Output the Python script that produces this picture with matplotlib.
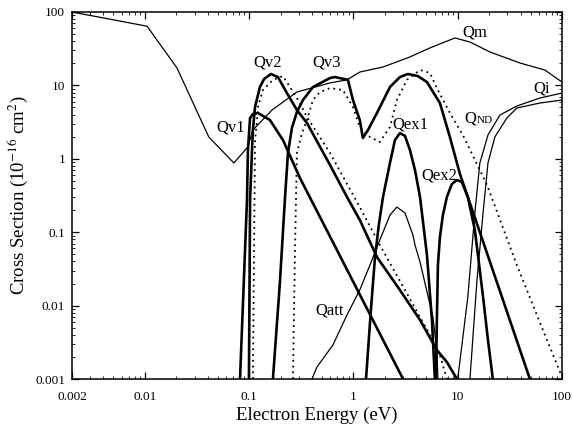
import numpy as np
import matplotlib
matplotlib.use('Agg')
import matplotlib.pyplot as plt
from matplotlib.ticker import LogLocator, NullFormatter

plt.rcParams['font.family'] = ['Liberation Serif', 'DejaVu Serif']
plt.rcParams['mathtext.fontset'] = 'stix'

# --- data (energy in eV, cross section in 1e-16 cm^2) ---
qm_x = [0.002, 0.0105, 0.0203, 0.041, 0.0714, 0.097, 0.1086, 0.166, 0.287, 0.596,
        0.867, 1.15, 1.92, 3.48, 5.41, 9.4, 13.1, 20.4, 39.5, 68.5, 100]
qm_y = [100, 64, 17.3, 1.98, 0.877, 1.45, 2.47, 4.63, 8.13, 10.8,
        11.9, 15.2, 17.8, 24.4, 32.4, 44.3, 39, 28.5, 20.2, 16.2, 11.1]

qv1_x = [0.0817, 0.0953, 0.0973, 0.102, 0.1086, 0.1213, 0.158, 0.211, 0.307, 0.695, 2.99]
qv1_y = [0.001, 0.275, 1.32, 3.6, 4.07, 4.21, 3.38, 1.80, 0.547, 0.0571, 0.001]

qv2_x = [0.0995, 0.102, 0.1065, 0.1086, 0.1138, 0.1268, 0.1387, 0.1618, 0.1888, 0.230,
         0.287, 0.358, 0.596, 0.867, 1.15, 1.68, 2.79, 4.35, 6.31, 7.87, 9.82]
qv2_y = [0.001, 0.275, 1.32, 2.47, 5.08, 9.5, 12.2, 14.3, 13.0, 7.87,
         4.62, 3.08, 0.824, 0.302, 0.147, 0.0459, 0.0163, 0.00637, 0.00248, 0.0017, 0.001]

qv2d_x = [0.1086, 0.1138, 0.119, 0.1213, 0.1355, 0.169, 0.211, 0.246, 0.307, 0.358,
          0.596, 1.15, 1.79, 3.12, 5.41, 6.75, 7.87]
qv2d_y = [0.001, 1.8, 3.38, 5.08, 8.65, 11.9, 13.4, 9.5, 5.75, 3.71,
          1.2, 0.220, 0.067, 0.0163, 0.00397, 0.00212, 0.001]

qv3_x = [0.169, 0.197, 0.220, 0.2355, 0.257, 0.287, 0.328, 0.409, 0.596, 0.665,
         0.885, 0.989, 1.15, 1.23, 1.38, 1.68, 2.24, 2.79, 3.33, 4.15,
         5.07, 6.75, 8.41, 10.5, 20.4, 49.2]
qv3_y = [0.001, 0.0203, 0.275, 1.2, 2.63, 4.34, 6.32, 9.5, 12.6, 13.0,
         11.9, 6.32, 3.38, 1.92, 2.47, 4.21, 9.5, 13.0, 14.3, 13.4,
         11.1, 5.75, 1.98, 0.621, 0.0393, 0.001]

qv3d_x = [0.263, 0.275, 0.287, 0.321, 0.358, 0.409, 0.478, 0.596, 0.793, 0.989,
          1.15, 1.44, 1.79, 2.24, 2.61, 3.26, 4.35, 5.41, 6.31, 8.41,
          11.2, 19.1, 36.9, 65.6, 100]
qv3d_y = [0.001, 0.0571, 1.2, 2.24, 3.38, 6.32, 8.13, 9.2, 8.65, 5.08,
          2.71, 1.98, 1.69, 2.71, 6.32, 11.9, 16.2, 14.8, 9.2, 4.21,
          2.11, 0.44, 0.0357, 0.00466, 0.00107]

qex1_x = [1.32, 1.47, 1.61, 1.75, 1.92, 2.24, 2.50, 2.79, 3.12, 3.48, 3.89, 4.35, 5.07, 5.66, 6.04]
qex1_y = [0.001, 0.0087, 0.0459, 0.125, 0.302, 0.877, 1.80, 2.24, 2.05, 1.32, 0.703, 0.302,
          0.0489, 0.00637, 0.001]

qex2_x = [6.18, 6.31, 6.46, 6.75, 7.21, 7.87, 8.79, 9.82, 10.96, 12.5, 14.6, 17.5, 19.5, 21.7]
qex2_y = [0.001, 0.00637, 0.0357, 0.0861, 0.171, 0.302, 0.454, 0.514, 0.483, 0.302,
          0.107, 0.0131, 0.0034, 0.001]

qatt_x = [0.400, 0.447, 0.635, 0.867, 1.15, 1.44, 1.79, 2.24, 2.61, 3.12,
          3.72, 3.89, 4.35, 5.78, 6.31, 6.46]
qatt_y = [0.001, 0.00146, 0.0029, 0.00745, 0.0163, 0.0357, 0.0783, 0.171, 0.220, 0.183,
          0.0916, 0.067, 0.0393, 0.0070, 0.00248, 0.001]

qnd_x = [10.0, 12.5, 14.6, 16.3, 19.5, 25.4, 36.9, 61.4, 100]
qnd_y = [0.001, 0.0131, 0.183, 0.877, 2.11, 3.95, 5.24, 6.73, 7.87]

qi_x = [13.1, 15.3, 17.5, 19.5, 22.7, 29.6, 36.9, 61.4, 100]
qi_y = [0.001, 0.0223, 0.183, 0.877, 1.98, 3.6, 4.92, 5.75, 6.32]

xtick_vals = [0.002, 0.01, 0.1, 1, 10, 100]
xtick_labels = ['0.002', '0.01', '0.1', '1', '10', '100']
ytick_vals = [0.001, 0.01, 0.1, 1, 10, 100]
ytick_labels = ['0.001', '0.01', '0.1', '1', '10', '100']

# --- styles ---
THICK = dict(color='black', lw=1.9, solid_joinstyle='round')
THIN = dict(color='black', lw=0.9)
DOT = dict(color='black', lw=1.3, ls=(0, (1, 2.2)))

fig = plt.figure(figsize=(5.73, 4.30), dpi=100)
ax = fig.add_axes([72 / 573, 51 / 430, 490 / 573, 367 / 430])

ax.plot(qm_x, qm_y, **THIN)
ax.plot(qv1_x, qv1_y, **THICK)
ax.plot(qv2_x, qv2_y, **THICK)
ax.plot(qv2d_x, qv2d_y, **DOT)
ax.plot(qv3_x, qv3_y, **THICK)
ax.plot(qv3d_x, qv3d_y, **DOT)
ax.plot(qex1_x, qex1_y, **THICK)
ax.plot(qex2_x, qex2_y, **THICK)
ax.plot(qatt_x, qatt_y, **THIN)
ax.plot(qnd_x, qnd_y, **THIN)
ax.plot(qi_x, qi_y, **THIN)

ax.set_xscale('log'); ax.set_yscale('log')
ax.set_xlim(0.002, 100); ax.set_ylim(0.001, 100)
ax.set_xticks(xtick_vals); ax.set_xticklabels(xtick_labels)
ax.set_yticks(ytick_vals); ax.set_yticklabels(ytick_labels)
for axis in (ax.xaxis, ax.yaxis):
    axis.set_minor_locator(LogLocator(base=10, subs=np.arange(2, 10) * 1.0, numticks=20))
    axis.set_minor_formatter(NullFormatter())
ax.tick_params(which='both', direction='in', top=True, right=True)
ax.tick_params(which='major', length=5, width=0.9, labelsize=9.5)
ax.tick_params(axis='x', which='major', pad=9)
ax.tick_params(axis='y', which='major', pad=5)
ax.tick_params(which='minor', length=2.5, width=0.6)
for s in ax.spines.values():
    s.set_linewidth(1.1)

ax.set_xlabel('Electron Energy (eV)', fontsize=13.5, labelpad=2)
ax.set_ylabel('Cross Section (10$^{-16}$ cm$^2$)', fontsize=13.5)
ax.yaxis.set_label_coords(-0.085, 0.5)

# curve labels
lab = dict(fontsize=12, ha='center', va='center')
ax.text(14.6, 52, 'Qm', **lab)
ax.text(0.151, 20.2, 'Qv2', **lab)
ax.text(0.557, 20.2, 'Qv3', **lab)
ax.text(0.0668, 2.71, 'Qv1', **lab)
ax.text(3.48, 2.89, 'Qex1', **lab)
ax.text(6.6, 0.60, 'Qex2', **lab)
ax.text(64.1, 9.2, 'Qi', **lab)
ax.text(0.596, 0.0087, 'Qatt', **lab)
ax.text(11.7, 3.08, 'Q', fontsize=12, ha='left', va='baseline')
ax.annotate('ND', xy=(11.7, 3.08), xytext=(8.5, 0), textcoords='offset points',
            fontsize=8, ha='left', va='baseline')

fig.savefig('out.png', dpi=100)
plt.close(fig)
